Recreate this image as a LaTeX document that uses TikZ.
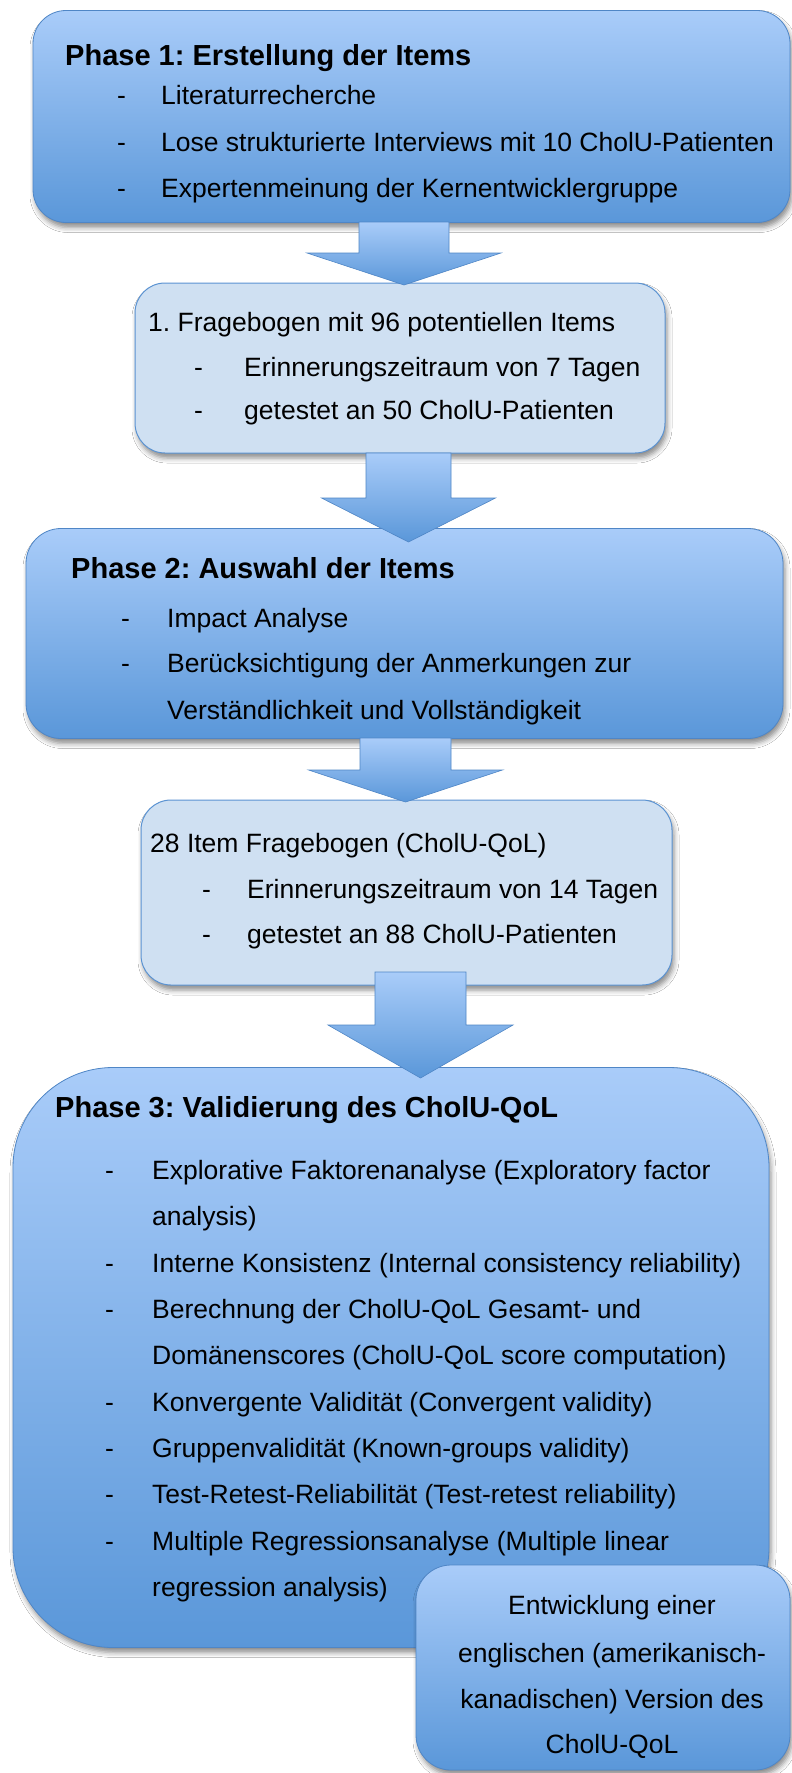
\documentclass[tikz,border=0pt]{standalone}
\usepackage{fontspec}
\setmainfont{Liberation Sans}
\usetikzlibrary{shadows.blur}
\definecolor{gtop}{HTML}{A9CCF9}
\definecolor{gbot}{HTML}{5A97D9}
\definecolor{bord}{HTML}{4F86C6}
\definecolor{lightfill}{HTML}{CFE0F2}
\definecolor{lightbord}{HTML}{5B93D2}
\frenchspacing
\newcommand\blockarrow[7]{% name, cx, y0, y1, y2, shaft half, head half
  \coordinate (#1-tail) at (#2,#3);
  \coordinate (#1-tip) at (#2,#5);
  \path[arrowbox] (#2-#6,#3) -- (#2+#6,#3) -- (#2+#6,#4) -- (#2+#7,#4) -- (#1-tip) -- (#2-#7,#4) -- (#2-#6,#4) -- cycle;}
\begin{document}
\begin{tikzpicture}[x=1pt,y=-1pt,
  shade/.style={blur shadow={shadow xshift=2pt, shadow yshift=-5pt, shadow blur radius=5pt, shadow opacity=45}},
  phase/.style={shade, draw=bord, line width=0.8pt, top color=gtop, bottom color=gbot, inner sep=0pt},
  light/.style={shade, draw=lightbord, line width=1pt, fill=lightfill, inner sep=0pt},
  arrowbox/.style={draw=bord, line width=0.6pt, top color=gtop, bottom color=gbot},
  ttl/.style={anchor=base west, inner sep=0pt, font=\fontsize{29}{32}\selectfont\bfseries\frenchspacing},
  txt/.style={anchor=base west, inner sep=0pt, font=\fontsize{26.5}{30}\selectfont\frenchspacing},
  ctxt/.style={anchor=base, inner sep=0pt, font=\fontsize{26.5}{30}\selectfont\frenchspacing}]
\useasboundingbox (0,0) rectangle (792,1773);
\fill[white] (0,0) rectangle (792,1773);

% Phase 1
\node[phase, rounded corners=33pt, minimum width=757pt, minimum height=212pt] (p1) at (411.5,116.5) {};
\node[ttl] (p1t) at (65,65) {Phase 1: Erstellung der Items};
\node[txt] (p1d1) at (117,104) {-};
\node[txt] (p1a) at (161,104) {Literaturrecherche};
\node[txt] (p1d2) at (117,151) {-};
\node[txt] (p1b) at (161,151) {Lose strukturierte Interviews mit 10 CholU-Patienten};
\node[txt] (p1d3) at (117,197) {-};
\node[txt] (p1c) at (161,197) {Expertenmeinung der Kernentwicklergruppe};

% Box 2
\node[light, rounded corners=30pt, minimum width=530pt, minimum height=170pt] (b2) at (400,368) {};
\node[txt] (b2t) at (148,331) {1. Fragebogen mit 96 potentiellen Items};
\node[txt] (b2d1) at (194,376) {-};
\node[txt] (b2a) at (244,376) {Erinnerungszeitraum von 7 Tagen};
\node[txt] (b2d2) at (194,419) {-};
\node[txt] (b2b) at (244,419) {getestet an 50 CholU-Patienten};

% Phase 2
\node[phase, rounded corners=35pt, minimum width=757pt, minimum height=210pt] (p2) at (404.5,633.5) {};
\node[ttl] (p2t) at (71,578) {Phase 2: Auswahl der Items};
\node[txt] (p2d1) at (121,627) {-};
\node[txt] (p2a) at (167,627) {Impact Analyse};
\node[txt] (p2d2) at (121,672) {-};
\node[txt] (p2b) at (167,672) {Berücksichtigung der Anmerkungen zur};
\node[txt] (p2c) at (167,719) {Verständlichkeit und Vollständigkeit};

% Box 4
\node[light, rounded corners=30pt, minimum width=531pt, minimum height=185pt] (b4) at (406.5,892.5) {};
\node[txt] (b4t) at (150,852) {28 Item Fragebogen (CholU-QoL)};
\node[txt] (b4d1) at (202,898) {-};
\node[txt] (b4a) at (247,898) {Erinnerungszeitraum von 14 Tagen};
\node[txt] (b4d2) at (202,943) {-};
\node[txt] (b4b) at (247,943) {getestet an 88 CholU-Patienten};

% Phase 3
\node[phase, rounded corners=100pt, minimum width=756pt, minimum height=580pt] (p3) at (391,1357.5) {};
\node[ttl] (p3t) at (55,1117) {Phase 3: Validierung des CholU-QoL};
\node[txt] (p3d1) at (105,1179) {-};
\node[txt] (p3a) at (152,1179) {Explorative Faktorenanalyse (Exploratory factor};
\node[txt] (p3a2) at (152,1225) {analysis)};
\node[txt] (p3d2) at (105,1272) {-};
\node[txt] (p3b) at (152,1272) {Interne Konsistenz (Internal consistency reliability)};
\node[txt] (p3d3) at (105,1318) {-};
\node[txt] (p3c) at (152,1318) {Berechnung der CholU-QoL Gesamt- und};
\node[txt] (p3c2) at (152,1364) {Domänenscores (CholU-QoL score computation)};
\node[txt] (p3d4) at (105,1411) {-};
\node[txt] (p3e) at (152,1411) {Konvergente Validität (Convergent validity)};
\node[txt] (p3d5) at (105,1457) {-};
\node[txt] (p3f) at (152,1457) {Gruppenvalidität (Known-groups validity)};
\node[txt] (p3d6) at (105,1503) {-};
\node[txt] (p3g) at (152,1503) {Test-Retest-Reliabilität (Test-retest reliability)};
\node[txt] (p3d7) at (105,1550) {-};
\node[txt] (p3h) at (152,1550) {Multiple Regressionsanalyse (Multiple linear};
\node[txt] (p3h2) at (152,1596) {regression analysis)};

% Box 6
\node[phase, rounded corners=35pt, minimum width=374pt, minimum height=205pt] (b6) at (603,1667.5) {};
\node[ctxt] (b6a) at (612,1614) {Entwicklung einer};
\node[ctxt] (b6b) at (612,1662) {englischen (amerikanisch-};
\node[ctxt] (b6c) at (612,1708) {kanadischen) Version des};
\node[ctxt] (b6d) at (612,1753) {CholU-QoL};

% Arrows
\blockarrow{a1}{404}{222}{253}{285}{45}{97}
\blockarrow{a2}{408.5}{453}{498}{542}{42.5}{87}
\blockarrow{a3}{405.5}{738}{770}{802}{45.5}{97}
\blockarrow{a4}{420.5}{972}{1025}{1078}{45.5}{92.5}
\end{tikzpicture}
\end{document}
